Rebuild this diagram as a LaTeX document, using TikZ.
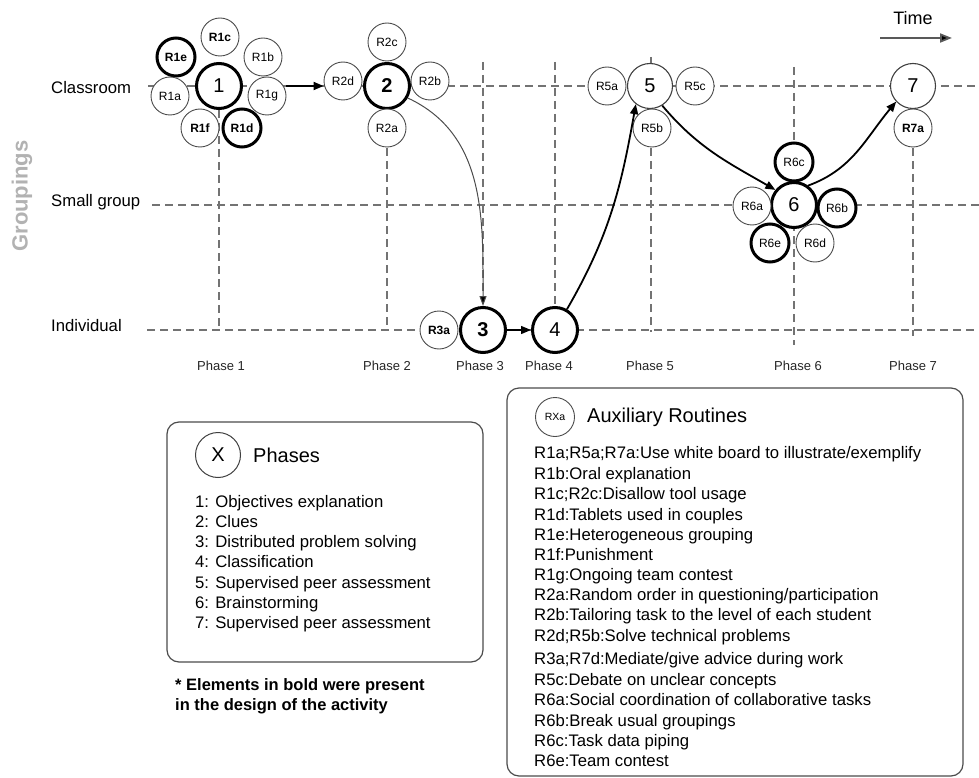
\documentclass[tikz,border=0pt]{standalone}
\usepackage{fontspec}
\setmainfont{Liberation Sans}
\usetikzlibrary{arrows.meta}

\tikzset{
	gridline/.style={draw=black!55, line width=1.3pt, dash pattern=on 8pt off 5pt},
	phase/.style={circle, draw=black!75, line width=1.1pt, fill=white, minimum size=45pt, inner sep=0pt, font=\fontsize{20}{24}\selectfont},
	phasebold/.style={phase, draw=black, line width=3pt},
	phasebf/.style={phasebold, font=\fontsize{20}{24}\selectfont\bfseries},
	routine/.style={circle, draw=black!70, line width=0.9pt, fill=white, minimum size=38pt, inner sep=0pt, font=\fontsize{12}{14}\selectfont},
	routinebf/.style={routine, font=\fontsize{12}{14}\selectfont\bfseries},
	routinebold/.style={routine, draw=black, line width=3pt},
	routineboldbf/.style={routinebf, draw=black, line width=3pt},
	flow/.style={line width=1.8pt, -{Triangle[length=10pt, width=8pt]}},
	thinflow/.style={draw=black!70, line width=1pt, -{Triangle[length=10pt, width=7pt, fill=black]}},
	legendbox/.style={draw=black!70, line width=1.2pt, rounded corners=12pt},
	listtext/.style={anchor=base west, inner sep=0pt, font=\fontsize{16.7}{20}\selectfont},
}

\begin{document}
\begin{tikzpicture}[x=1pt, y=1pt]
	\useasboundingbox (0,0) rectangle (979,-778);
	
	\foreach \y/\name/\xs/\yb in {
		86/Classroom/148/94,
		205/Small group/152/207,
		330/Individual/147/331}
	{
		\node [anchor=base west, inner sep=0pt, font=\fontsize{16.7}{20}\selectfont] at (51,-\yb) (row\y) {\name};
		\draw [gridline] (\xs,-\y) -- (979,-\y);
	}
	
	\foreach \x/\ya/\yb in {
		219/110/326,
		387/148/326,
		483/62/330,
		555/62/330,
		651/57/332,
		794/67/345,
		913/148/336}
	{
		\draw [gridline] (\x,-\ya) -- (\x,-\yb);
	}
	
	\node [rotate=90, font=\fontsize{22}{24}\selectfont\bfseries, text=black!30] at (22,-196) (groupings) {Groupings};
	
	\node [anchor=base, font=\fontsize{18}{20}\selectfont] at (913,-25) (time) {Time};
	\coordinate (tstart) at (880,-38);
	\coordinate (tend) at (952,-38);
	\draw [draw=black!65, line width=1.8pt, -{Triangle[length=12pt, width=9pt, fill=black]}] (tstart) -- (tend);
	
	\foreach \x/\n in {221/1, 387/2, 480/3, 549/4, 650/5, 798/6, 913/7}
	{
		\node [anchor=base, inner sep=0pt, font=\fontsize{13}{15}\selectfont, text=black!85] at (\x,-370) (lab\n) {Phase \n};
	}
	
	\foreach \x/\y/\name/\sty in {
		219/86/1/phasebold,
		387/86/2/phasebf,
		483/330/3/phasebf,
		555/330/4/phasebold,
		650/86/5/phase,
		794/205/6/phasebold,
		913/86/7/phase}
	{
		\node [\sty] at (\x,-\y) (p\name) {\name};
	}
	
	\foreach \x/\y/\name/\sty in {
		220/37/R1c/routinebf,
		176/57/R1e/routineboldbf,
		263/57/R1b/routine,
		170/96/R1a/routine,
		267/96/R1g/routine,
		200/128/R1f/routinebf,
		242/128/R1d/routineboldbf,
		387/42/R2c/routine,
		343/81/R2d/routine,
		430/81/R2b/routine,
		387/128/R2a/routine,
		439/330/R3a/routinebf,
		607/86/R5a/routine,
		695/86/R5c/routine,
		652/128/R5b/routine,
		794/162/R6c/routinebold,
		752/206/R6a/routine,
		837/208/R6b/routinebold,
		770/243/R6e/routinebold,
		815/243/R6d/routine,
		913/128/R7a/routinebf}
	{
		\node [\sty] at (\x,-\y) (\name) {\name};
	}
	
	\draw [flow] (R1g.east |- p1) -- (R2d.west |- p1);
	\draw [thinflow] (p2.-30) to [out=-25, in=90] (p3.north);
	\draw [flow, line width=1.4pt] (p3) -- (p4);
	\draw [flow] (p4.60) to [out=60, in=-100] (p5.-128);
	\draw [flow] (p5.-58) to [out=-50, in=150] (p6.141);
	\draw [flow] (p6.54) to [out=20, in=-130] (p7.-137);
	
	\draw [legendbox] (167,-422) rectangle (483,-662);
	\node [phase, line width=1pt] at (218,-455) (xkey) {X};
	\node [anchor=base west, inner sep=0pt, font=\fontsize{20}{24}\selectfont] at (253,-462) (phasestitle) {Phases};
	\foreach \i/\txt in {
		1/Objectives explanation,
		2/Clues,
		3/Distributed problem solving,
		4/Classification,
		5/Supervised peer assessment,
		6/Brainstorming,
		7/Supervised peer assessment}
	{
		\node [listtext] at (195,{-507-20.3*(\i-1)}) (phaseitem\i) {\i: \txt};
	}
	
	\node [anchor=base west, inner sep=0pt, align=left, font=\fontsize{16.5}{20}\selectfont\bfseries] at (175,-710) (note) {* Elements in bold were present\\in the design of the activity};
	
	\draw [legendbox] (507,-388) rectangle (963,-776);
	\node [routine, minimum size=39pt, font=\fontsize{10.5}{12}\selectfont] at (555,-417) (rxkey) {RXa};
	\node [anchor=base west, inner sep=0pt, font=\fontsize{20}{24}\selectfont] at (587,-422) (auxtitle) {Auxiliary Routines};
	\foreach \y/\txt in {
		458.3/{R1a;R5a;R7a:Use white board to illustrate/exemplify},
		479/{R1b:Oral explanation},
		499.3/{R1c;R2c:Disallow tool usage},
		520/{R1d:Tablets used in couples},
		540.3/{R1e:Heterogeneous grouping},
		560.3/{R1f:Punishment},
		580.3/{R1g:Ongoing team contest},
		600.7/{R2a:Random order in questioning/participation},
		620.7/{R2b:Tailoring task to the level of each student},
		641.3/{R2d;R5b:Solve technical problems},
		664.3/{R3a;R7d:Mediate/give advice during work},
		685/{R5c:Debate on unclear concepts},
		705.7/{R6a:Social coordination of collaborative tasks},
		726.7/{R6b:Break usual groupings},
		746.7/{R6c:Task data piping},
		766.7/{R6e:Team contest}}
	{
		\node [listtext] at (534,-\y) {\txt};
	}
\end{tikzpicture}
\end{document}
